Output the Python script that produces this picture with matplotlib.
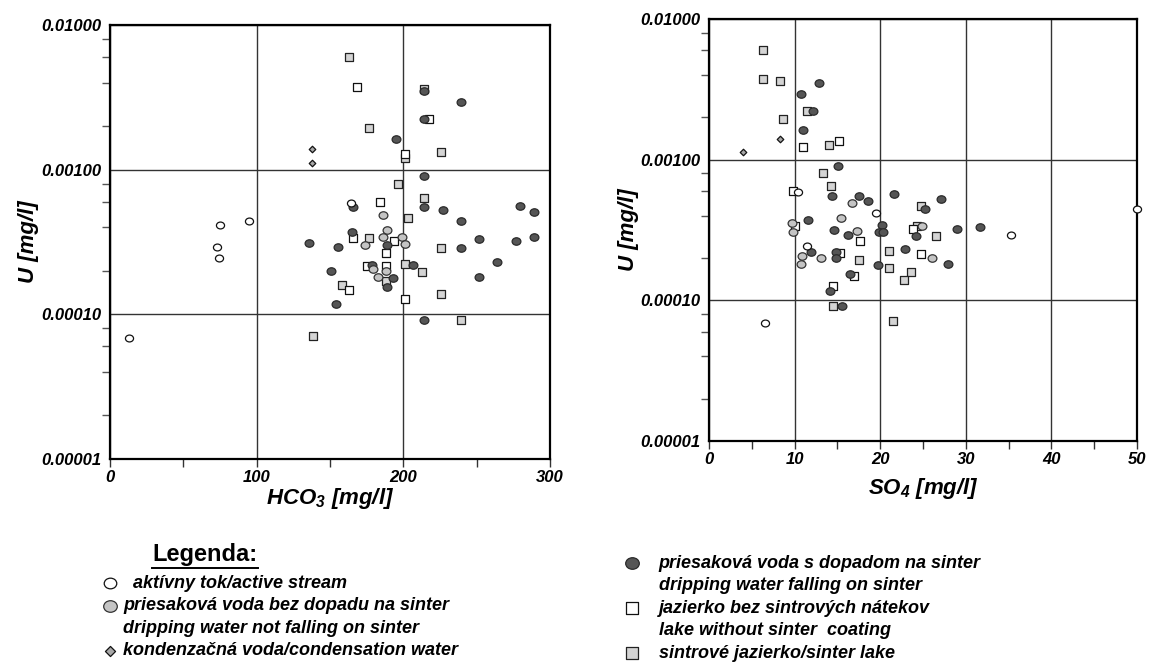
import matplotlib
matplotlib.use("Agg")
import matplotlib.pyplot as plt
import numpy as np
from matplotlib.path import Path
from matplotlib.lines import Line2D
from matplotlib.ticker import MultipleLocator, LogLocator, NullFormatter, FuncFormatter

plt.rcParams['font.family'] = ['Liberation Sans', 'DejaVu Sans']
plt.rcParams['font.weight'] = 'bold'
plt.rcParams['font.style'] = 'italic'
plt.rcParams['axes.labelweight'] = 'bold'
plt.rcParams['mathtext.fontset'] = 'custom'
plt.rcParams['mathtext.rm'] = 'Liberation Sans:italic:bold'
plt.rcParams['mathtext.it'] = 'Liberation Sans:italic:bold'
plt.rcParams['mathtext.bf'] = 'Liberation Sans:italic:bold'

# ---- HCO3 vs U (left) ----
hco3_active = [12.7, 72.7, 74.1, 75.2, 95.0, 164.0]
u_active_l = [6.84e-5, 2.92e-4, 2.44e-4, 4.13e-4, 4.45e-4, 5.9e-4]

hco3_drip_no = [186, 188.6, 186, 174, 199, 201.3, 179.3, 188.4, 183]
u_drip_no_l = [4.86e-4, 3.83e-4, 3.44e-4, 3.02e-4, 3.4e-4, 3.06e-4, 2.07e-4, 1.99e-4, 1.81e-4]

hco3_cond = [138, 138]
u_cond_l = [1.4e-3, 1.12e-3]

hco3_drip_on = [194.8, 213.9, 239.3, 213.9, 213.9, 213.9, 166, 227, 239, 279.8, 289,
                164.8, 251.6, 277, 289, 135.7, 155.7, 188.6, 239.3, 150.4, 178.8,
                192.7, 188.9, 206.4, 264, 251.6, 154, 213.9]
u_drip_on_l = [1.62e-3, 3.5e-3, 2.92e-3, 2.23e-3, 9.0e-4, 5.5e-4, 5.5e-4, 5.25e-4, 4.45e-4,
               5.63e-4, 5.08e-4, 3.69e-4, 3.3e-4, 3.22e-4, 3.43e-4, 3.13e-4, 2.93e-4,
               3.02e-4, 2.86e-4, 2.0e-4, 2.18e-4, 1.77e-4, 1.54e-4, 2.2e-4, 2.3e-4,
               1.8e-4, 1.17e-4, 9.1e-5]

hco3_lake = [168.6, 201, 217.7, 184, 166, 193.6, 188.4, 175.4, 188.4, 163, 201]
u_lake_l = [3.71e-3, 1.28e-3, 2.23e-3, 5.96e-4, 3.39e-4, 3.22e-4, 2.64e-4, 2.16e-4,
            2.16e-4, 1.48e-4, 1.27e-4]

hco3_sinter = [163, 176.6, 201, 226, 213.9, 196.6, 213.9, 203, 176.6, 226, 188.4, 201,
               212.5, 158, 226, 239.3, 138.4]
u_sinter_l = [6.04e-3, 1.95e-3, 1.2e-3, 1.33e-3, 3.6e-3, 8.0e-4, 6.4e-4, 4.63e-4, 3.36e-4,
              2.86e-4, 1.7e-4, 2.24e-4, 1.95e-4, 1.6e-4, 1.38e-4, 9.1e-5, 7.06e-5]

# ---- SO4 vs U (right) ----
so4_active = [10.43, 19.5, 11.48, 6.58, 35.28, 49.96]
u_active_r = [5.85e-4, 4.17e-4, 2.45e-4, 6.85e-5, 2.9e-4, 4.43e-4]

so4_drip_no = [16.67, 9.66, 9.85, 15.38, 17.25, 24.9, 10.9, 10.71, 13.12, 26.1]
u_drip_no_r = [4.89e-4, 3.52e-4, 3.04e-4, 3.84e-4, 3.09e-4, 3.4e-4, 2.08e-4, 1.81e-4,
               1.99e-4, 1.99e-4]

so4_cond = [8.26, 4.0]
u_cond_r = [1.41e-3, 1.13e-3]

so4_drip_on = [12.9, 10.78, 12.1, 11.0, 15.03, 14.37, 17.56, 18.57, 21.6, 25.23, 27.14,
               11.57, 14.64, 16.24, 20.2, 19.82, 20.3, 24.15, 29.0, 31.66, 11.92, 14.84,
               14.84, 22.87, 27.9, 19.7, 16.44, 14.1, 15.5]
u_drip_on_r = [3.52e-3, 2.91e-3, 2.23e-3, 1.62e-3, 9.03e-4, 5.5e-4, 5.53e-4, 5.07e-4,
               5.69e-4, 4.45e-4, 5.27e-4, 3.7e-4, 3.16e-4, 2.9e-4, 3.45e-4, 3.05e-4,
               3.05e-4, 2.86e-4, 3.2e-4, 3.3e-4, 2.19e-4, 2.22e-4, 2.0e-4, 2.31e-4,
               1.81e-4, 1.77e-4, 1.55e-4, 1.17e-4, 9.18e-5]

so4_lake = [11.0, 15.15, 9.85, 10.05, 23.8, 17.64, 15.27, 24.8, 16.94, 14.52]
u_lake_r = [1.24e-3, 1.35e-3, 5.97e-4, 3.4e-4, 3.2e-4, 2.63e-4, 2.16e-4, 2.15e-4,
            1.49e-4, 1.27e-4]

so4_sinter = [6.27, 6.27, 8.29, 11.48, 8.6, 14.06, 13.35, 14.29, 24.77, 24.3, 26.56,
              17.56, 21.0, 20.99, 23.6, 22.78, 14.49, 21.53]
u_sinter_r = [6.05e-3, 3.72e-3, 3.62e-3, 2.23e-3, 1.96e-3, 1.28e-3, 8.1e-4, 6.49e-4,
              4.65e-4, 3.35e-4, 2.86e-4, 1.95e-4, 2.26e-4, 1.71e-4, 1.59e-4, 1.39e-4,
              9.18e-5, 7.11e-5]

labels = ["  aktívny tok/active stream",
          "priesaková voda bez dopadu na sinter",
          "dripping water not falling on sinter",
          "kondenzačná voda/condensation water",
          "priesaková voda s dopadom na sinter",
          "dripping water falling on sinter",
          "jazierko bez sintrových nátekov",
          "lake without sinter  coating",
          "sintrové jazierko/sinter lake"]

# slightly flattened circle like the original
uc = Path.unit_circle()
ellipse = Path(uc.vertices * np.array([1.0, 0.85]), uc.codes)

styles = {
    "active": dict(marker=ellipse, s=34, facecolor="white", edgecolor="#111111"),
    "drip_no": dict(marker=ellipse, s=40, facecolor="#c4c4c4", edgecolor="#333333"),
    "cond": dict(marker="D", s=11, facecolor="#a8a8a8", edgecolor="#111111"),
    "drip_on": dict(marker=ellipse, s=40, facecolor="#555555", edgecolor="#2a2a2a"),
    "lake": dict(marker="s", s=30, facecolor="white", edgecolor="#111111"),
    "sinter": dict(marker="s", s=30, facecolor="#d4d4d4", edgecolor="#222222"),
}

W, H = 1152, 666
fig = plt.figure(figsize=(W / 100, H / 100), dpi=100)
ax1 = fig.add_axes([110 / W, 1 - 459 / H, 440 / W, 434 / H])
ax2 = fig.add_axes([709 / W, 1 - 441 / H, 428 / W, 422 / H])


def draw(ax, series):
    handles = {}
    for key, x, y in series:
        handles[key] = ax.scatter(x, y, linewidths=0.9, clip_on=False, zorder=3, **styles[key])
    return handles


h = draw(ax1, [("sinter", hco3_sinter, u_sinter_l), ("lake", hco3_lake, u_lake_l),
               ("drip_on", hco3_drip_on, u_drip_on_l), ("drip_no", hco3_drip_no, u_drip_no_l),
               ("cond", hco3_cond, u_cond_l), ("active", hco3_active, u_active_l)])
draw(ax2, [("sinter", so4_sinter, u_sinter_r), ("lake", so4_lake, u_lake_r),
           ("drip_on", so4_drip_on, u_drip_on_r), ("drip_no", so4_drip_no, u_drip_no_r),
           ("cond", so4_cond, u_cond_r), ("active", so4_active, u_active_r)])

for ax, xmax, step in [(ax1, 300, 100), (ax2, 50, 10)]:
    ax.set_yscale("log")
    ax.set_ylim(1e-5, 1e-2)
    ax.set_xlim(0, xmax)
    ax.set_yticks([1e-5, 1e-4, 1e-3, 1e-2])
    ax.yaxis.set_major_formatter(FuncFormatter(lambda v, p: f"{v:.5f}"))
    ax.yaxis.set_minor_locator(LogLocator(base=10, subs=(2, 4, 6, 8)))
    ax.yaxis.set_minor_formatter(NullFormatter())
    ax.xaxis.set_major_locator(MultipleLocator(step))
    ax.xaxis.set_minor_locator(MultipleLocator(step / 2))
    ax.set_axisbelow(True)
    ax.grid(True, which="major", color="#333333", lw=1)
    for sp in ax.spines.values():
        sp.set_linewidth(1.6)
    ax.tick_params(axis="y", which="major", length=0, pad=6, labelsize=12)
    ax.tick_params(axis="y", which="minor", length=6, width=1, color="#555555")
    ax.tick_params(axis="x", which="both", length=6, width=1, color="#333333",
                   pad=2, labelsize=12)
    ax.set_ylabel("U [mg/l]", fontsize=16)

ax1.set_xlabel(r"HCO$_3$ [mg/l]", fontsize=16)
ax2.set_xlabel(r"SO$_4$ [mg/l]", fontsize=16)
ax1.xaxis.set_label_coords(0.5, -0.062)
ax2.xaxis.set_label_coords(0.5, -0.083)
ax1.yaxis.set_label_coords(-0.162, 0.5)
ax2.yaxis.set_label_coords(-0.164, 0.5)

blank = Line2D([], [], linestyle="none")
leg_kw = dict(frameon=False, loc="upper left", borderpad=0, borderaxespad=0,
              markerscale=1.55, handlelength=1.25, fontsize=13, labelspacing=0.30)
fig.legend([h["active"], h["drip_no"], blank, h["cond"]],
           [labels[0], labels[1], labels[2], labels[3]],
           bbox_to_anchor=(98.7 / W, 1 - 575 / H), handletextpad=0.12, **leg_kw)
fig.legend([h["drip_on"], blank, h["lake"], blank, h["sinter"]],
           labels[4:], bbox_to_anchor=(620.7 / W, 1 - 555 / H), handletextpad=0.85, **leg_kw)

t = fig.text(205 / W, 1 - 555 / H, "Legenda:", fontsize=17, style="normal",
             weight="bold", ha="center", va="center")
fig.canvas.draw()
bb = t.get_window_extent(fig.canvas.get_renderer())
fig.add_artist(Line2D([bb.x0 / W, bb.x1 / W], [(bb.y0 - 1) / H, (bb.y0 - 1) / H],
                      transform=fig.transFigure, color="black", lw=1.4))

fig.savefig("out.png", dpi=100)
